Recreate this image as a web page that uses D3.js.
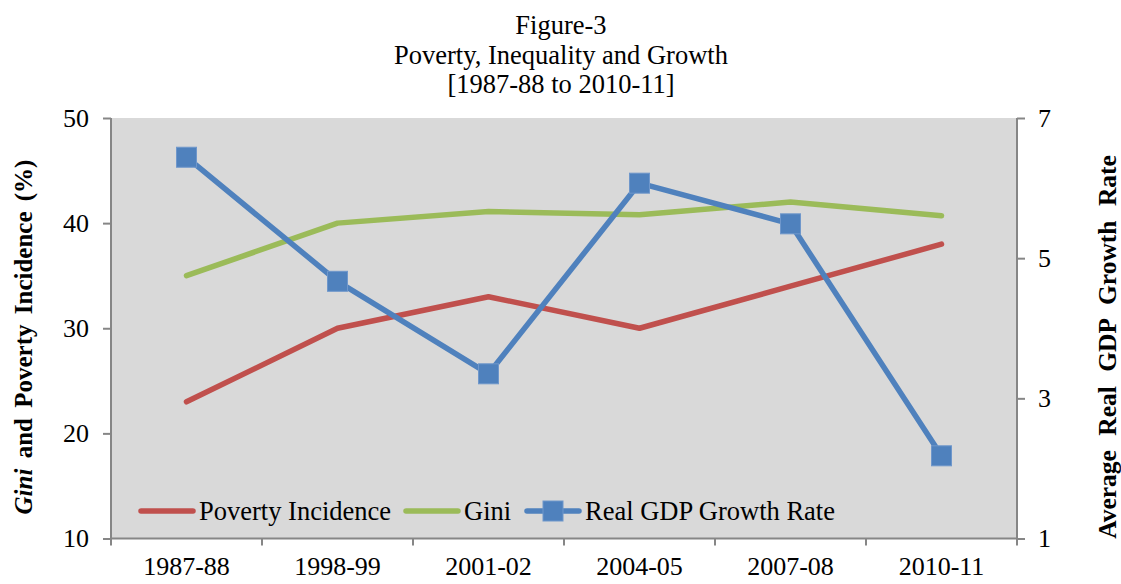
<!DOCTYPE html>
<html><head><meta charset="utf-8">
<script src="https://cdn.jsdelivr.net/npm/d3@7"></script>
<style>body{margin:0;background:#fff}svg{display:block}svg text{font-family:'Liberation Serif','Times New Roman',serif !important;fill:#000}</style>
</head><body><svg id="c" width="1121" height="584"></svg>
<script>
const categories = ["1987-88","1998-99","2001-02","2004-05","2007-08","2010-11"];
const poverty = [23, 30, 33, 30, 34, 38];
const gini = [35, 40, 41.1, 40.8, 42, 40.7];
const gdp = [6.44, 4.67, 3.35, 6.07, 5.49, 2.18];
const leftTicks = [10, 20, 30, 40, 50];
const rightTicks = [1, 3, 5, 7];
const titleLines = ["Figure-3", "Poverty, Inequality and Growth", "[1987-88 to 2010-11]"];

const FONT = "'Liberation Serif','Times New Roman',serif";
const svg = d3.select("#c");
const m = {l:111, r:1017, t:118, b:538.5};
const x = d3.scaleBand().domain(categories).range([m.l, m.r]);
const yL = d3.scaleLinear().domain([10, 50]).range([m.b, m.t]);
const yR = d3.scaleLinear().domain([1, 7]).range([m.b, m.t]);
const cx = d => x(d) + x.bandwidth()/2;

svg.append("rect").attr("x", m.l).attr("y", m.t).attr("width", m.r-m.l).attr("height", m.b-m.t).attr("fill", "#d9d9d9");

// title
svg.append("g").selectAll("text").data(titleLines).join("text")
  .attr("x", 561).attr("y", (d,i) => 34 + i*29.5).attr("text-anchor", "middle")
  .style("font-family", FONT).style("font-size", "26.5px").text(d => d);

const axisColor = "#868686";
const gl = svg.append("g").attr("transform", `translate(${m.l},0)`)
  .call(d3.axisLeft(yL).tickValues(leftTicks).tickFormat(d3.format("d")).tickSize(8).tickPadding(14));
const gr = svg.append("g").attr("transform", `translate(${m.r},0)`)
  .call(d3.axisRight(yR).tickValues(rightTicks).tickFormat(d3.format("d")).tickSize(8).tickPadding(13));
const gb = svg.append("g").attr("transform", `translate(0,${m.b})`)
  .call(d3.axisBottom(x).tickSize(0).tickPadding(36));
gb.selectAll(".tick").append("line").attr("x1", -x.bandwidth()/2).attr("x2", -x.bandwidth()/2).attr("y2", 7);
gb.append("line").attr("x1", m.r).attr("x2", m.r).attr("y2", 7);
[gl, gr, gb].forEach(g => {
  g.attr("font-family", null).attr("font-size", null);
  g.selectAll("line").attr("stroke", axisColor).attr("stroke-width", 2);
  g.selectAll("text").style("font-size", "26px").style("font-family", FONT).attr("fill", "#000");
});
gl.select("path.domain").attr("stroke", axisColor).attr("stroke-width", 2).attr("d", `M0,${m.t}V${m.b}`);
gr.select("path.domain").attr("stroke", axisColor).attr("stroke-width", 2).attr("d", `M0,${m.t}V${m.b}`);
gb.select("path.domain").attr("stroke", axisColor).attr("stroke-width", 2).attr("d", `M${m.l},0H${m.r}`);
gb.selectAll(".tick text").attr("dy", "0");

// axis titles
const lt = svg.append("text").attr("transform", "translate(32,337) rotate(-90)")
  .attr("text-anchor", "middle").style("font-family", FONT).style("font-size", "25px").attr("font-weight", "bold").style("word-spacing", "4px");
lt.append("tspan").attr("font-style", "italic").text("Gini");
lt.append("tspan").text(" and  Poverty  Incidence (%)");
svg.append("text").attr("transform", "translate(1116,347) rotate(-90)")
  .attr("text-anchor", "middle").style("font-family", FONT).style("font-size", "25.5px").attr("font-weight", "bold").style("word-spacing", "8px")
  .text("Average Real GDP Growth Rate");

// lines
const series = [
  {name:"Poverty Incidence", vals:poverty, y:yL, color:"#C0504D"},
  {name:"Gini", vals:gini, y:yL, color:"#9BBB59"},
  {name:"Real GDP Growth Rate", vals:gdp, y:yR, color:"#4F81BD", marker:true}
];
series.forEach(s => {
  const line = d3.line().x((d,i) => cx(categories[i])).y(d => s.y(d));
  svg.append("path").datum(s.vals).attr("d", line).attr("fill", "none")
    .attr("stroke", s.color).attr("stroke-width", 5.5).attr("stroke-linecap", "round").attr("stroke-linejoin", "round");
  if (s.marker) {
    svg.append("g").selectAll("rect").data(s.vals).join("rect")
      .attr("x", (d,i) => cx(categories[i]) - 10).attr("y", d => s.y(d) - 10)
      .attr("width", 20).attr("height", 20).attr("fill", "#4F81BD").attr("stroke", "#6f97cb").attr("stroke-width", 1);
  }
});

// legend
const legendX = [141, 406, 527];
const lg = svg.append("g");
series.forEach((s, i) => {
  const g = lg.append("g").attr("transform", `translate(${legendX[i]},511)`);
  g.append("line").attr("x1", 0).attr("x2", 52).attr("stroke", s.color).attr("stroke-width", 5.5).attr("stroke-linecap", "round");
  if (s.marker) g.append("rect").attr("x", 16).attr("y", -10).attr("width", 20).attr("height", 20).attr("fill", "#4F81BD").attr("stroke", "#6f97cb");
  g.append("text").attr("x", 58).attr("y", 9).style("font-family", FONT).style("font-size", "26.5px").text(s.name);
});
</script></body></html>
